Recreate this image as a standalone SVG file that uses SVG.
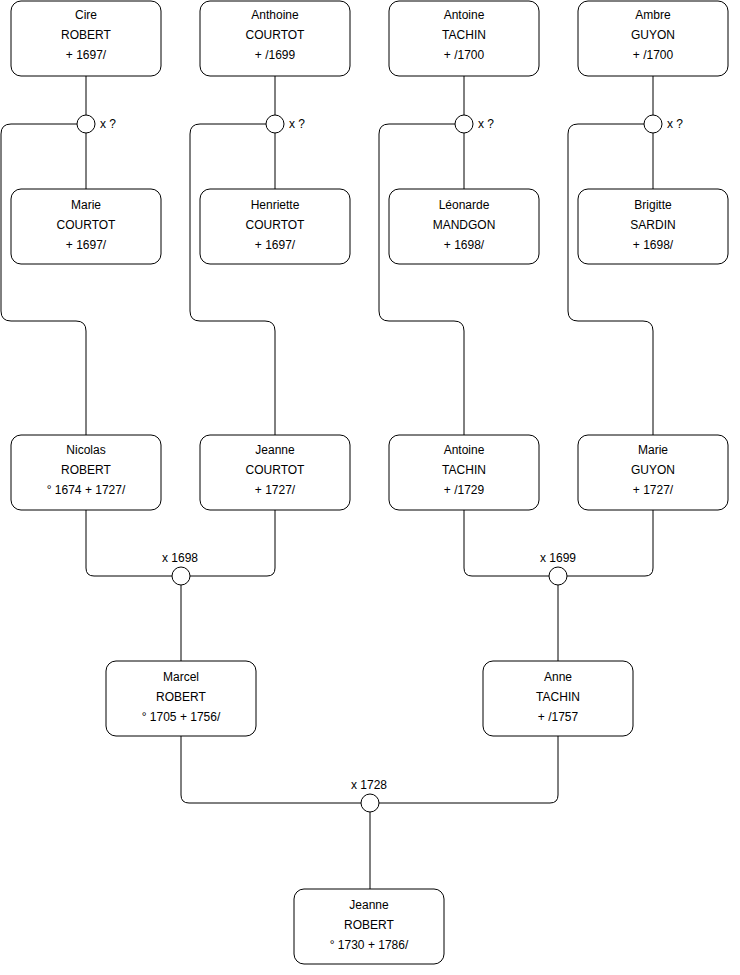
<svg xmlns="http://www.w3.org/2000/svg" width="740" height="975" viewBox="0 0 740 975">
<style>
.box{fill:#fff;stroke:#000;stroke-width:1}
.c{fill:#fff;stroke:#000;stroke-width:1}
.ln{fill:none;stroke:#000;stroke-width:1}
text{font-family:"Liberation Sans",Arial,sans-serif;font-size:12px;fill:#000}
.m{text-anchor:middle}
</style>
<rect width="740" height="975" fill="#fff"/>
<g id="connectors">
<path class="ln" d="M86,76V115M86,133V189M275,76V115M275,133V189M464,76V115M464,133V189M653,76V115M653,133V189"/>
<path class="ln" d="M77,124H11Q1,124 1,134V311Q1,321 11,321H76Q86,321 86,331V435"/>
<path class="ln" d="M266,124H200Q190,124 190,134V311Q190,321 200,321H265Q275,321 275,331V435"/>
<path class="ln" d="M455,124H389Q379,124 379,134V311Q379,321 389,321H454Q464,321 464,331V435"/>
<path class="ln" d="M644,124H578Q568,124 568,134V311Q568,321 578,321H643Q653,321 653,331V435"/>
<path class="ln" d="M86,510V568Q86,576 94,576H172M275,510V568Q275,576 267,576H190M181,585V661"/>
<path class="ln" d="M464,510V568Q464,576 472,576H549M653,510V568Q653,576 645,576H567M558,585V661"/>
<path class="ln" d="M181,736V795Q181,803 189,803H361M558,736V795Q558,803 550,803H379M370,812V889"/>
</g>
<g id="union1"><circle class="c" cx="86" cy="124" r="9"/><text x="100" y="128">x ?</text></g>
<g id="union2"><circle class="c" cx="275" cy="124" r="9"/><text x="289" y="128">x ?</text></g>
<g id="union3"><circle class="c" cx="464" cy="124" r="9"/><text x="478" y="128">x ?</text></g>
<g id="union4"><circle class="c" cx="653" cy="124" r="9"/><text x="667" y="128">x ?</text></g>
<g id="union5"><circle class="c" cx="181" cy="576" r="9"/><text class="m" x="180" y="562">x 1698</text></g>
<g id="union6"><circle class="c" cx="558" cy="576" r="9"/><text class="m" x="558" y="562">x 1699</text></g>
<g id="union7"><circle class="c" cx="370" cy="803" r="9"/><text class="m" x="369" y="789">x 1728</text></g>
<g id="cire"><rect class="box" x="11" y="1" width="150" height="75" rx="10"/><text class="m" x="86" y="19">Cire</text><text class="m" x="86" y="39">ROBERT</text><text class="m" x="86" y="59">+ 1697/</text></g>
<g id="anthoine"><rect class="box" x="200" y="1" width="150" height="75" rx="10"/><text class="m" x="275" y="19">Anthoine</text><text class="m" x="275" y="39">COURTOT</text><text class="m" x="275" y="59">+ /1699</text></g>
<g id="antoine1"><rect class="box" x="389" y="1" width="150" height="75" rx="10"/><text class="m" x="464" y="19">Antoine</text><text class="m" x="464" y="39">TACHIN</text><text class="m" x="464" y="59">+ /1700</text></g>
<g id="ambre"><rect class="box" x="578" y="1" width="150" height="75" rx="10"/><text class="m" x="653" y="19">Ambre</text><text class="m" x="653" y="39">GUYON</text><text class="m" x="653" y="59">+ /1700</text></g>
<g id="marie1"><rect class="box" x="11" y="189" width="150" height="75" rx="10"/><text class="m" x="86" y="209">Marie</text><text class="m" x="86" y="229">COURTOT</text><text class="m" x="86" y="249">+ 1697/</text></g>
<g id="henriette"><rect class="box" x="200" y="189" width="150" height="75" rx="10"/><text class="m" x="275" y="209">Henriette</text><text class="m" x="275" y="229">COURTOT</text><text class="m" x="275" y="249">+ 1697/</text></g>
<g id="leonarde"><rect class="box" x="389" y="189" width="150" height="75" rx="10"/><text class="m" x="464" y="209">Léonarde</text><text class="m" x="464" y="229">MANDGON</text><text class="m" x="464" y="249">+ 1698/</text></g>
<g id="brigitte"><rect class="box" x="578" y="189" width="150" height="75" rx="10"/><text class="m" x="653" y="209">Brigitte</text><text class="m" x="653" y="229">SARDIN</text><text class="m" x="653" y="249">+ 1698/</text></g>
<g id="nicolas"><rect class="box" x="11" y="435" width="150" height="75" rx="10"/><text class="m" x="86" y="454">Nicolas</text><text class="m" x="86" y="474">ROBERT</text><text class="m" x="86" y="494">° 1674 + 1727/</text></g>
<g id="jeanne1"><rect class="box" x="200" y="435" width="150" height="75" rx="10"/><text class="m" x="275" y="454">Jeanne</text><text class="m" x="275" y="474">COURTOT</text><text class="m" x="275" y="494">+ 1727/</text></g>
<g id="antoine2"><rect class="box" x="389" y="435" width="150" height="75" rx="10"/><text class="m" x="464" y="454">Antoine</text><text class="m" x="464" y="474">TACHIN</text><text class="m" x="464" y="494">+ /1729</text></g>
<g id="marie2"><rect class="box" x="578" y="435" width="150" height="75" rx="10"/><text class="m" x="653" y="454">Marie</text><text class="m" x="653" y="474">GUYON</text><text class="m" x="653" y="494">+ 1727/</text></g>
<g id="marcel"><rect class="box" x="106" y="661" width="150" height="75" rx="10"/><text class="m" x="181" y="681">Marcel</text><text class="m" x="181" y="701">ROBERT</text><text class="m" x="181" y="721">° 1705 + 1756/</text></g>
<g id="anne"><rect class="box" x="483" y="661" width="150" height="75" rx="10"/><text class="m" x="558" y="681">Anne</text><text class="m" x="558" y="701">TACHIN</text><text class="m" x="558" y="721">+ /1757</text></g>
<g id="jeanne2"><rect class="box" x="294" y="889" width="150" height="75" rx="10"/><text class="m" x="369" y="909">Jeanne</text><text class="m" x="369" y="929">ROBERT</text><text class="m" x="369" y="949">° 1730 + 1786/</text></g>
</svg>
